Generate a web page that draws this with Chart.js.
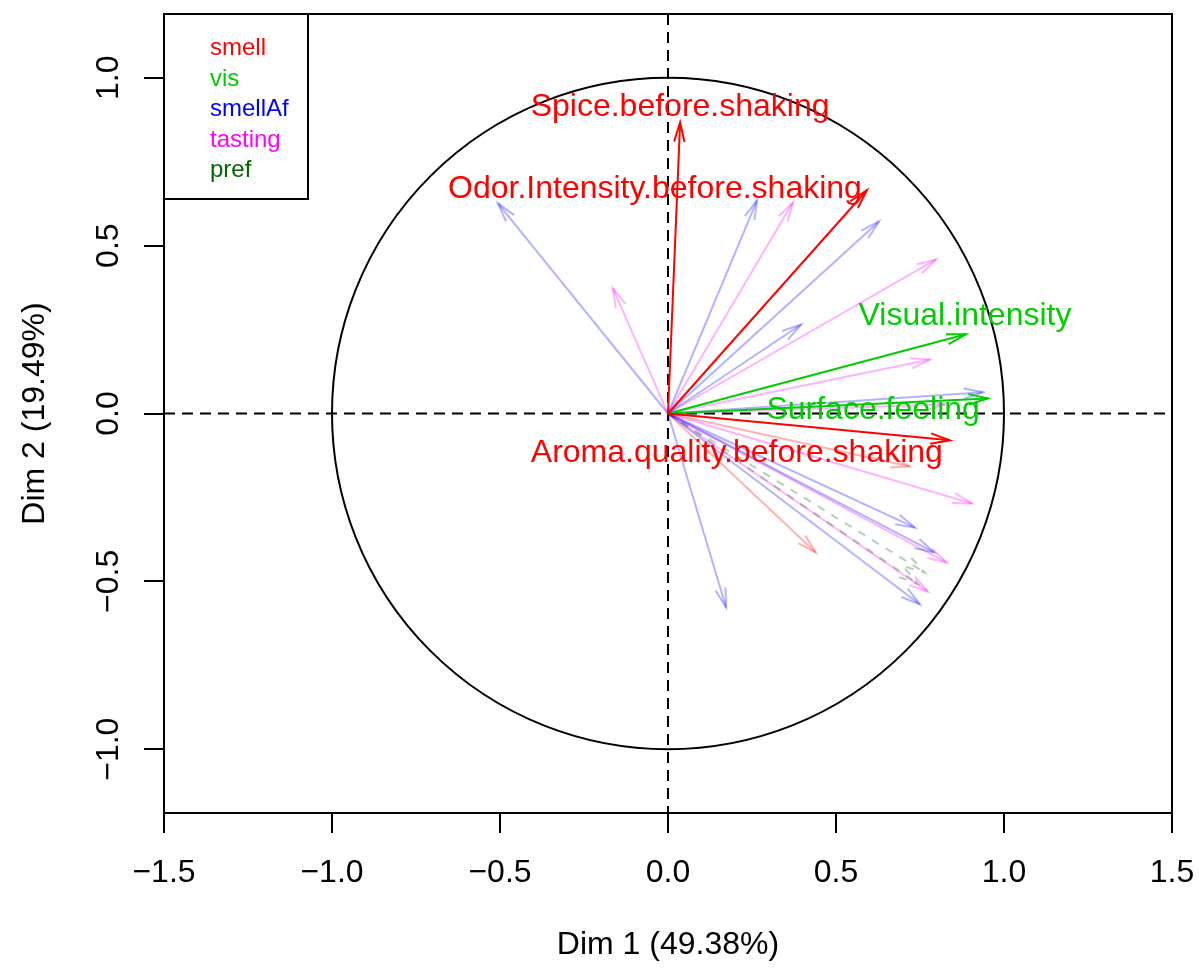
<!DOCTYPE html>
<html>
<head>
<meta charset="utf-8">
<script src="https://cdn.jsdelivr.net/npm/chart.js@4.4.0/dist/chart.umd.min.js"></script>
<style>
  html, body { margin: 0; padding: 0; background: #fff; }
  #wrap { width: 1199px; height: 969px; }
</style>
</head>
<body>
<div id="wrap"><canvas id="varChart" width="1199" height="969"></canvas></div>
<script>
        // Groups of variables and their colours
        const groups = ['smell', 'vis', 'smellAf', 'tasting', 'pref'];
        const groupColors = ['#FF0000', '#00CD00', '#0000FF', '#FF00FF', '#006400'];

        // Labelled variables (drawn in full colour)
        const labelNames = ['Spice.before.shaking', 'Odor.Intensity.before.shaking', 'Aroma.quality.before.shaking', 'Visual.intensity', 'Surface.feeling'];
        const labelGroup = ['smell', 'smell', 'smell', 'vis', 'vis'];
        const labelDim1 = [0.036, 0.592, 0.839, 0.887, 0.952];
        const labelDim2 = [0.867, 0.665, -0.080, 0.236, 0.045];

        // Other variables, drawn faded
        const smellDim1 = [0.440, 0.720];
        const smellDim2 = [-0.414, -0.158];
        const smellAfDim1 = [-0.506, 0.265, 0.628, 0.396, 0.938, 0.173, 0.735, 0.792, 0.750];
        const smellAfDim2 = [0.626, 0.635, 0.572, 0.265, 0.063, -0.578, -0.340, -0.414, -0.569];
        const tastingDim1 = [-0.164, 0.372, 0.798, 0.780, 0.824, 0.905, 0.830, 0.774];
        const tastingDim2 = [0.373, 0.629, 0.459, 0.161, 0.027, -0.268, -0.444, -0.531];
        const prefDim1 = [0.765, 0.744];
        const prefDim2 = [-0.474, -0.507];

        const xTicks = [-1.5, -1, -0.5, 0, 0.5, 1, 1.5];
        const yTicks = [-1, -0.5, 0, 0.5, 1];
        const xTitle = 'Dim 1 (49.38%)';
        const yTitle = 'Dim 2 (19.49%)';

        // where each label sits relative to its arrow tip (px, baseline)
        const labelPlace = [
            { align: 'center', dx: 0, dy: -6 },
            { align: 'right', dx: -5, dy: 8 },
            { align: 'right', dx: -7, dy: 22 },
            { align: 'center', dx: -1, dy: -9 },
            { align: 'right', dx: -8, dy: 21 }
        ];

        const FONT = "'Liberation Sans', Arial, Helvetica, sans-serif";
        Chart.defaults.font.family = FONT;

        function colorOf(group) {
            return groupColors[groups.indexOf(group)];
        }

        function fade(hex, alpha) {
            const n = parseInt(hex.slice(1), 16);
            return `rgba(${(n >> 16) & 255}, ${(n >> 8) & 255}, ${n & 255}, ${alpha})`;
        }

        function arrow(x, y, color, order, dash) {
            return {
                data: [{ x: 0, y: 0 }, { x: x, y: y }],
                showLine: true,
                borderColor: color,
                borderWidth: 2,
                borderDash: dash || [],
                pointRadius: 0,
                pointHoverRadius: 0,
                order: order
            };
        }

        const datasets = [];
        labelDim1.forEach((v, i) => datasets.push(arrow(v, labelDim2[i], colorOf(labelGroup[i]), 1)));
        const faded = [
            ['smell', smellDim1, smellDim2],
            ['smellAf', smellAfDim1, smellAfDim2],
            ['tasting', tastingDim1, tastingDim2],
            ['pref', prefDim1, prefDim2]
        ];
        faded.forEach(([g, d1, d2]) => {
            d1.forEach((v, i) => datasets.push(arrow(v, d2[i], fade(colorOf(g), 0.3), 2, g === 'pref' ? [8, 8] : null)));
        });

        function tickText(v) {
            return (v < 0 ? '\u2212' : '') + Math.abs(v).toFixed(1);
        }

        // circle, dashed axes, arrow heads, labels, frame and legend
        const varPlot = {
            id: 'varPlot',
            beforeDatasetsDraw(chart) {
                const { ctx, chartArea: a, scales: { x, y } } = chart;
                const x0 = x.getPixelForValue(0), y0 = y.getPixelForValue(0);
                ctx.save();
                ctx.strokeStyle = '#000';
                ctx.lineWidth = 2;
                ctx.beginPath();
                ctx.ellipse(x0, y0, x.getPixelForValue(1) - x0, y0 - y.getPixelForValue(1), 0, 0, Math.PI * 2);
                ctx.stroke();
                ctx.setLineDash([11, 7]);
                ctx.beginPath();
                ctx.moveTo(a.left, y0); ctx.lineTo(a.right, y0);
                ctx.moveTo(x0, a.top); ctx.lineTo(x0, a.bottom);
                ctx.stroke();
                ctx.restore();
            },
            afterDatasetDraw(chart, args) {
                const ds = chart.data.datasets[args.index];
                const [p0, p1] = args.meta.data;
                const ang = Math.atan2(p1.y - p0.y, p1.x - p0.x);
                const len = 20, spread = 15 * Math.PI / 180;
                const ctx = chart.ctx;
                ctx.save();
                ctx.strokeStyle = ds.borderColor;
                ctx.lineWidth = 2;
                ctx.setLineDash(ds.borderDash);
                ctx.beginPath();
                ctx.moveTo(p1.x - len * Math.cos(ang - spread), p1.y - len * Math.sin(ang - spread));
                ctx.lineTo(p1.x, p1.y);
                ctx.lineTo(p1.x - len * Math.cos(ang + spread), p1.y - len * Math.sin(ang + spread));
                ctx.stroke();
                ctx.restore();
            },
            afterDatasetsDraw(chart) {
                const { ctx, scales: { x, y } } = chart;
                ctx.save();
                ctx.font = `32px ${FONT}`;
                ctx.textBaseline = 'alphabetic';
                labelNames.forEach((name, i) => {
                    const p = labelPlace[i];
                    ctx.fillStyle = colorOf(labelGroup[i]);
                    ctx.textAlign = p.align;
                    ctx.fillText(name, x.getPixelForValue(labelDim1[i]) + p.dx, y.getPixelForValue(labelDim2[i]) + p.dy);
                });
                ctx.restore();
            },
            afterDraw(chart) {
                const { ctx, chartArea: a } = chart;
                ctx.save();
                ctx.strokeStyle = '#000';
                ctx.lineWidth = 2;
                ctx.strokeRect(a.left, a.top, a.right - a.left, a.bottom - a.top);
                // legend
                ctx.fillStyle = '#fff';
                ctx.fillRect(a.left, a.top, 144, 185);
                ctx.strokeRect(a.left, a.top, 144, 185);
                ctx.font = `24px ${FONT}`;
                ctx.textAlign = 'left';
                ctx.textBaseline = 'alphabetic';
                groups.forEach((g, i) => {
                    ctx.fillStyle = groupColors[i];
                    ctx.fillText(g, a.left + 46, a.top + 41 + i * 30.5);
                });
                ctx.restore();
            }
        };

        const axisFont = { family: FONT, size: 32 };

        new Chart(document.getElementById('varChart').getContext('2d'), {
            type: 'scatter',
            data: { datasets: datasets },
            options: {
                responsive: false,
                animation: false,
                events: [],
                layout: { padding: { top: 14, right: 27, left: 0, bottom: 0 } },
                plugins: {
                    legend: { display: false },
                    tooltip: { enabled: false }
                },
                scales: {
                    x: {
                        type: 'linear',
                        min: -1.5,
                        max: 1.5,
                        afterBuildTicks: s => { s.ticks = xTicks.map(v => ({ value: v })); },
                        afterFit: s => { s.height = 156; s.paddingLeft = 0; s.paddingRight = 0; },
                        grid: { drawOnChartArea: false, color: '#000', lineWidth: 2, tickLength: 20 },
                        border: { display: false },
                        ticks: { autoSkip: false, color: '#000', font: axisFont, padding: 21, maxRotation: 0, callback: tickText },
                        title: { display: true, text: xTitle, color: '#000', font: axisFont, padding: { top: 0, bottom: 5 } }
                    },
                    y: {
                        type: 'linear',
                        min: -1.19,
                        max: 1.19,
                        afterBuildTicks: s => { s.ticks = yTicks.map(v => ({ value: v })); },
                        afterFit: s => { s.width = 164; s.paddingTop = 0; s.paddingBottom = 0; },
                        grid: { drawOnChartArea: false, color: '#000', lineWidth: 2, tickLength: 20 },
                        border: { display: false },
                        ticks: { autoSkip: false, color: '#000', font: axisFont, padding: 3, minRotation: 90, maxRotation: 90, crossAlign: 'center', callback: tickText },
                        title: { display: true, text: yTitle, color: '#000', font: axisFont, padding: { top: 16, bottom: 0 } }
                    }
                }
            },
            plugins: [varPlot]
        });
</script>
</body>
</html>
